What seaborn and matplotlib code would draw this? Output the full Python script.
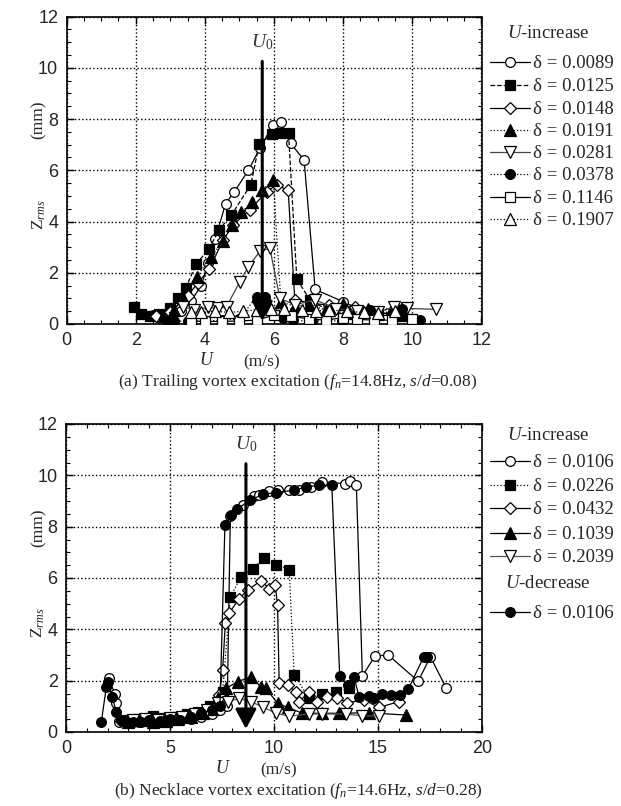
import matplotlib
matplotlib.use("Agg")
import matplotlib.pyplot as plt
import seaborn as sns
import numpy as np
from matplotlib.lines import Line2D

# ---------------- data: (a) trailing vortex excitation ----------------
a_labels = ["0.0089", "0.0125", "0.0148", "0.0191", "0.0281", "0.0378", "0.1146", "0.1907"]

a_U_0089 = [2.5, 2.9, 3.3, 3.6, 3.9, 4.1, 4.3, 4.6, 4.85, 5.26, 5.59, 5.96, 6.19, 6.48, 6.87, 7.19, 8.0, 8.5, 9.0, 9.6]
a_Z_0089 = [0.35, 0.3, 0.5, 0.9, 1.5, 2.4, 3.3, 4.7, 5.15, 6.0, 6.85, 7.75, 7.88, 7.05, 6.4, 1.35, 0.87, 0.55, 0.45, 0.35]

a_U_0125 = [1.94, 2.16, 2.41, 2.68, 2.99, 3.23, 3.45, 3.74, 4.12, 4.41, 4.77, 5.33, 5.57, 5.95, 6.17, 6.42, 6.66, 7.04, 7.6, 8.3, 9.0, 9.7]
a_Z_0125 = [0.68, 0.39, 0.33, 0.39, 0.61, 1.0, 1.39, 2.33, 2.93, 3.67, 4.26, 5.43, 7.02, 7.41, 7.45, 7.45, 1.75, 0.94, 0.5, 0.4, 0.35, 0.3]

a_U_0148 = [2.6, 3.0, 3.5, 3.8, 4.13, 4.53, 4.82, 5.3, 5.79, 6.08, 6.41, 6.6, 7.1, 7.58, 8.35, 8.8, 9.4]
a_Z_0148 = [0.3, 0.45, 1.1, 1.6, 2.15, 3.28, 3.87, 4.45, 5.17, 5.43, 5.21, 0.95, 0.8, 0.74, 0.65, 0.45, 0.4]

a_U_0191 = [2.8, 3.1, 3.37, 3.76, 4.19, 4.53, 4.8, 5.06, 5.35, 5.64, 5.98, 6.2, 6.6, 7.0, 7.5, 8.0, 8.73, 9.4, 9.7]
a_Z_0191 = [0.3, 0.55, 1.0, 1.85, 2.63, 3.24, 3.87, 4.36, 4.75, 5.21, 5.62, 0.85, 0.7, 0.75, 0.55, 0.8, 0.57, 0.6, 0.57]

a_U_0281 = [3.37, 3.7, 4.1, 4.39, 4.63, 5.01, 5.26, 5.59, 5.88, 6.17, 6.6, 7.19, 7.8, 8.4, 9.0, 9.47, 9.86, 10.67]
a_Z_0281 = [0.68, 0.55, 0.65, 0.61, 0.68, 1.65, 2.24, 2.83, 2.96, 1.0, 0.75, 0.94, 0.6, 0.5, 0.45, 0.68, 0.61, 0.57]

a_U_0378 = [2.9, 3.1, 3.5, 4.0, 4.5, 5.0, 5.5, 5.74, 6.27, 6.56, 7.1, 7.96, 8.78, 9.7, 10.23]
a_Z_0378 = [0.1, 0.12, 0.1, 0.12, 0.15, 0.2, 1.07, 1.07, 0.22, 0.15, 0.1, 0.13, 0.55, 0.57, 0.15]

a_U_1146 = [3.6, 4.0, 4.5, 5.0, 5.5, 6.0, 6.5, 7.0, 7.5, 8.0, 8.4, 8.9, 9.4, 9.99]
a_Z_1146 = [0.12, 0.1, 0.1, 0.12, 0.15, 0.35, 0.3, 0.2, 0.15, 0.25, 0.18, 0.15, 0.15, 0.18]

a_U_1907 = [3.6, 3.9, 4.3, 4.7, 5.1, 5.5, 5.9, 6.3, 6.8, 7.2, 7.6, 8.1, 8.6, 9.02, 9.5]
a_Z_1907 = [0.45, 0.48, 0.5, 0.45, 0.5, 0.55, 0.6, 0.6, 0.55, 0.5, 0.55, 0.5, 0.45, 0.42, 0.5]

a_U0 = 5.66

# ---------------- data: (b) necklace vortex excitation ----------------
b_labels = ["0.0106", "0.0226", "0.0432", "0.1039", "0.2039"]
b_dec_label = "0.0106"

b_U_0106 = [2.06, 2.34, 2.42, 2.54, 3.0, 3.5, 4.0, 4.5, 5.0, 5.5, 6.0, 6.5, 7.0, 7.4, 7.75, 7.9, 8.49, 9.05, 9.29,
            9.74, 10.17, 10.73, 11.21, 11.77, 12.3, 13.42, 13.64, 13.96, 14.25, 14.85, 15.49, 16.93, 17.52, 18.29]
b_Z_0106 = [2.09, 1.5, 1.12, 0.4, 0.38, 0.4, 0.42, 0.4, 0.42, 0.45, 0.5, 0.6, 0.7, 0.85, 1.0, 8.4, 8.83, 9.2, 9.22,
            9.39, 9.42, 9.42, 9.44, 9.55, 9.74, 9.68, 9.77, 9.61, 2.18, 2.96, 3.0, 1.98, 2.93, 1.7]

b_U_0226 = [3.0, 3.5, 4.17, 4.6, 5.2, 5.8, 6.33, 6.9, 7.53, 7.9, 8.41, 8.97, 9.53, 10.12, 10.73, 10.97, 11.69, 12.3, 13.0, 13.6]
b_Z_0226 = [0.45, 0.5, 0.63, 0.55, 0.6, 0.7, 0.79, 1.0, 1.57, 5.27, 6.04, 6.37, 6.76, 6.52, 6.33, 2.22, 1.31, 1.5, 1.55, 1.7]

b_U_0432 = [2.6, 3.2, 3.8, 4.4, 5.0, 5.6, 6.2, 6.8, 7.37, 7.53, 7.66, 7.85, 8.33, 8.73, 9.37, 9.77, 10.06, 10.17,
            10.25, 10.65, 11.05, 11.21, 11.69, 12.09, 12.57, 13.05, 13.53, 14.33, 15.05, 16.0]
b_Z_0432 = [0.45, 0.42, 0.45, 0.5, 0.55, 0.6, 0.7, 0.9, 1.44, 2.41, 4.23, 4.64, 5.2, 5.53, 5.89, 5.59, 5.72, 4.94,
            1.89, 1.83, 1.57, 1.18, 1.57, 1.18, 1.37, 1.33, 1.14, 1.25, 0.96, 1.18]

b_U_1039 = [3.0, 3.6, 4.2, 4.8, 5.4, 6.0, 6.6, 7.0, 7.29, 7.69, 8.25, 8.89, 9.37, 9.61, 10.17, 10.65, 11.37, 12.33, 13.13, 14.57, 16.33]
b_Z_1039 = [0.4, 0.45, 0.4, 0.42, 0.5, 0.6, 0.75, 0.9, 1.31, 1.7, 1.96, 2.15, 1.76, 1.7, 1.12, 0.96, 0.73, 0.73, 0.73, 0.75, 0.66]

b_U_2039 = [3.2, 3.8, 4.4, 5.0, 5.6, 6.2, 6.8, 7.29, 7.77, 8.33, 8.89, 9.45, 10.09, 10.73, 11.69, 12.33, 13.45, 14.25, 15.05]
b_Z_2039 = [0.45, 0.5, 0.45, 0.55, 0.6, 0.7, 0.85, 1.12, 1.18, 1.31, 1.18, 0.98, 0.73, 0.62, 0.7, 0.7, 0.7, 0.63, 0.62]

b_U_dec = [1.7, 1.94, 2.02, 2.22, 2.42, 2.66, 2.9, 3.2, 3.6, 4.0, 4.5, 5.0, 5.5, 6.0, 6.5, 7.0, 7.4, 7.64, 7.93, 8.2,
           8.84, 9.48, 10.09, 10.97, 11.53, 12.17, 12.78, 13.16, 13.57, 13.85, 14.09, 14.57, 14.8, 15.21, 15.61,
           16.04, 16.45, 17.2, 17.35]
b_Z_dec = [0.4, 1.76, 1.96, 1.37, 0.79, 0.47, 0.4, 0.38, 0.4, 0.45, 0.42, 0.5, 0.45, 0.6, 0.75, 0.85, 1.0, 8.05, 8.44,
           8.67, 9.03, 9.26, 9.33, 9.42, 9.55, 9.61, 9.61, 2.18, 1.83, 2.13, 1.37, 1.4, 1.31, 1.47, 1.44, 1.44, 1.66,
           2.93, 2.93]

b_U0 = 8.65

# ---------------- style ----------------
sns.set_style("ticks")
plt.rcParams["font.family"] = ["Liberation Sans", "DejaVu Sans"]
plt.rcParams["mathtext.fontset"] = "custom"
plt.rcParams["mathtext.rm"] = "Liberation Serif"
plt.rcParams["mathtext.it"] = "Liberation Serif:italic"
plt.rcParams["mathtext.bf"] = "Liberation Serif:bold"
SERIF = ["Liberation Serif", "DejaVu Serif"]

W, H = 621, 806
fig = plt.figure(figsize=(W / 100, H / 100), dpi=100)
ax1 = fig.add_axes([66.5 / W, 1 - 324 / H, 415 / W, 307.5 / H])
ax2 = fig.add_axes([66 / W, 1 - 732 / H, 416 / W, 308 / H])

# marker/line specs per series: (marker, filled, linestyle, linecolor)
a_specs = [("o", False, "-", "black"), ("s", True, "--", "black"), ("D", False, "-", "black"),
           ("^", True, ":", "black"), ("v", False, "-", "#444444"), ("o", True, ":", "black"),
           ("s", False, "-", "black"), ("^", False, ":", "black")]
a_data = [(a_U_0089, a_Z_0089), (a_U_0125, a_Z_0125), (a_U_0148, a_Z_0148), (a_U_0191, a_Z_0191),
          (a_U_0281, a_Z_0281), (a_U_0378, a_Z_0378), (a_U_1146, a_Z_1146), (a_U_1907, a_Z_1907)]

b_specs = [("o", False, "-", "black"), ("s", True, ":", "black"), ("D", False, "-", "black"),
           ("^", True, "-", "black"), ("v", False, "-", "#555555")]
b_data = [(b_U_0106, b_Z_0106), (b_U_0226, b_Z_0226), (b_U_0432, b_Z_0432), (b_U_1039, b_Z_1039),
          (b_U_2039, b_Z_2039)]
b_dec_spec = ("o", True, "-", "black")


def msize(m):
    return {"o": 7, "s": 7, "D": 6, "^": 8, "v": 8}[m]


def draw_series(ax, U, Z, spec, z):
    m, filled, ls, lc = spec
    sns.lineplot(x=U, y=Z, ax=ax, sort=False, estimator=None, legend=False,
                 color=lc, linestyle=ls, linewidth=0.9,
                 marker=m, markersize=msize(m),
                 markerfacecolor="black" if filled else "white",
                 markeredgecolor="black", markeredgewidth=0.9, zorder=z)


for i, ((U, Z), spec) in enumerate(zip(a_data, a_specs)):
    draw_series(ax1, U, Z, spec, 3 + i * 0.1)
for i, ((U, Z), spec) in enumerate(zip(b_data, b_specs)):
    draw_series(ax2, U, Z, spec, 3 + i * 0.1)
draw_series(ax2, b_U_dec, b_Z_dec, b_dec_spec, 3.8)


def style_axes(ax, xmax, xmajor, xminor):
    ax.set_xlim(0, xmax)
    ax.set_ylim(0, 12)
    ax.set_xticks(np.arange(0, xmax + 0.01, xmajor))
    ax.set_xticks(np.arange(0, xmax + 0.01, xminor), minor=True)
    ax.set_yticks(np.arange(0, 12.01, 2))
    ax.set_yticks(np.arange(0, 12.01, 0.5), minor=True)
    ax.grid(True, which="major", linestyle=":", color="black", linewidth=1.0)
    ax.set_axisbelow(True)
    ax.tick_params(which="both", direction="in", top=True, right=True, color="black")
    ax.tick_params(which="major", length=5, width=1, labelsize=13, pad=6)
    ax.tick_params(which="minor", length=3, width=0.8)
    for s in ax.spines.values():
        s.set_linewidth(1.2)
        s.set_color("black")
    ax.set_xlabel("")
    ax.set_ylabel("")


style_axes(ax1, 12, 2, 0.5)
style_axes(ax2, 20, 5, 1)


def u0_arrow(ax, u0, top, tip):
    ax.annotate("", xy=(u0, tip), xytext=(u0, top),
                arrowprops=dict(arrowstyle="-|>,head_width=0.32,head_length=0.6",
                                mutation_scale=20, lw=2.2, color="black",
                                shrinkA=0, shrinkB=0), zorder=10)
    ax.text(u0, top + 0.75, r"$U_\mathit{0}$", ha="center", va="center", fontsize=14, color="#333333")


u0_arrow(ax1, a_U0, 10.25, 0.12)
u0_arrow(ax2, b_U0, 10.45, 0.12)

# axis label texts
for ax in (ax1, ax2):
    ax.text(-0.066, 0.354, r"Z$_{rms}$", rotation=90, ha="center", va="center",
            transform=ax.transAxes, fontsize=12.5, family=SERIF)
    ax.text(-0.066, 0.663, "(mm)", rotation=90, ha="center", va="center",
            transform=ax.transAxes, fontsize=12.5, family=SERIF)

ax1.text(0.339, -0.12, r"$U$", ha="center", va="center", transform=ax1.transAxes, fontsize=13)
ax1.text(0.47, -0.126, "(m/s)", ha="center", va="center", transform=ax1.transAxes, fontsize=12.5, family=SERIF)
ax2.text(0.377, -0.12, r"$U$", ha="center", va="center", transform=ax2.transAxes, fontsize=13)
ax2.text(0.51, -0.126, "(m/s)", ha="center", va="center", transform=ax2.transAxes, fontsize=12.5, family=SERIF)

ax1.text(0.558, -0.19, r"(a) Trailing vortex excitation ($f_n$=14.8Hz, $s/d$=0.08)",
         ha="center", va="center", transform=ax1.transAxes, fontsize=12.5, family=SERIF)
ax2.text(0.558, -0.19, r"(b) Necklace vortex excitation ($f_n$=14.6Hz, $s/d$=0.28)",
         ha="center", va="center", transform=ax2.transAxes, fontsize=12.5, family=SERIF)


# ---------------- legends (drawn in figure pixel coordinates) ----------------
def fx(x):
    return x / W


def fy(y):
    return 1 - y / H


def legend_entry(y, spec, label):
    m, filled, ls, lc = spec
    fig.add_artist(Line2D([fx(490), fx(530)], [fy(y), fy(y)], color=lc, linestyle=ls, linewidth=0.9,
                          transform=fig.transFigure))
    fig.add_artist(Line2D([fx(510)], [fy(y)], marker=m, markersize=msize(m),
                          markerfacecolor="black" if filled else "white", markeredgecolor="black",
                          markeredgewidth=0.9, linestyle="none", transform=fig.transFigure))
    fig.text(fx(533), fy(y + 1.5), "δ = " + label, ha="left", va="center", fontsize=13.5, family=SERIF)


fig.text(fx(548), fy(34), r"$U$-increase", ha="center", va="center", fontsize=13.5, family=SERIF)
a_ys = [61.7, 85, 107.7, 130, 152.3, 174.3, 196.7, 219.3]
for y, spec, lab in zip(a_ys, a_specs, a_labels):
    legend_entry(y, spec, lab)

fig.text(fx(548), fy(435), r"$U$-increase", ha="center", va="center", fontsize=13.5, family=SERIF)
b_ys = [460.7, 485.3, 508, 533.3, 555.7]
for y, spec, lab in zip(b_ys, b_specs, b_labels):
    legend_entry(y, spec, lab)
fig.text(fx(548), fy(584), r"$U$-decrease", ha="center", va="center", fontsize=13.5, family=SERIF)
legend_entry(612.3, b_dec_spec, b_dec_label)

fig.savefig("out.png", dpi=100)
